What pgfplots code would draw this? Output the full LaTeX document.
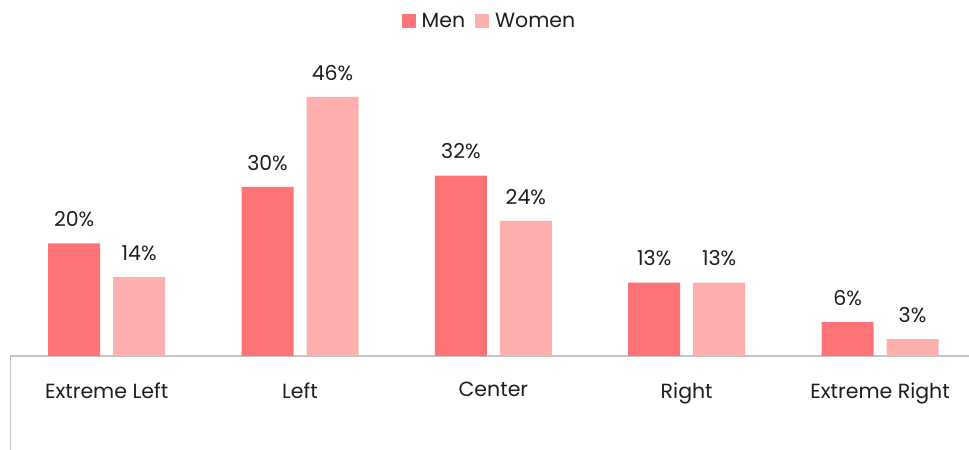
\documentclass[border=0pt]{standalone}
\usepackage{pgfplots}
\pgfplotsset{compat=1.18}
\usepackage{fontspec}
\setmainfont{Poppins}
\definecolor{men}{HTML}{FF7377}
\definecolor{women}{HTML}{FFB0AE}
\definecolor{axgray}{HTML}{C4C4C8}
\definecolor{txt}{HTML}{1E1E1E}
\begin{document}
\begin{tikzpicture}
\useasboundingbox (0,0) rectangle (969bp,450bp);
\begin{axis}[
  at={(10bp,0bp)}, anchor=south west,
  scale only axis, width=959bp, height=450bp,
  xmin=-0.5, xmax=4.46, ymin=-16.7, ymax=63.2,
  /pgf/number format/assume math mode=true,
  axis x line*=middle, axis y line=none,
  x axis line style={axgray, line width=1.2bp},
  xtick={0,1,2,3,4},
  xticklabels={Extreme Left, Left, Center, Right, Extreme Right},
  major tick length=0pt,
  ytick=\empty,
  xticklabel style={font=\fontsize{20.5bp}{24bp}\selectfont, text=txt, yshift=-23bp},
  ybar, bar width=0.269,
  nodes near coords={\pgfmathprintnumber{\pgfplotspointmeta}\%},
  every node near coord/.append style={font=\fontsize{20.5bp}{24bp}\selectfont, text=txt, anchor=south, yshift=13bp},
  legend style={at={(0.5,1)}, anchor=north, yshift=-9bp, draw=none, fill=none,
    font=\fontsize{20.5bp}{24bp}\selectfont, text=txt,
    /tikz/every even column/.append style={column sep=8bp}},
  legend columns=2,
  legend image code/.code={\fill[#1,draw=none] (0bp,-7bp) rectangle (14bp,7bp); \path (18bp,0bp);},
]
\addplot[fill=men, draw=none, bar shift=-0.168] coordinates {(0,20) (1,30) (2,32) (3,13) (4,6)};
\addplot[fill=women, draw=none, bar shift=0.168] coordinates {(0,14) (1,46) (2,24) (3,13) (4,3)};
\legend{Men, Women}
\draw[axgray, line width=1.2bp] (axis cs:-0.5,-16.7) -- (axis cs:-0.5,0);
\end{axis}
\end{tikzpicture}
\end{document}
